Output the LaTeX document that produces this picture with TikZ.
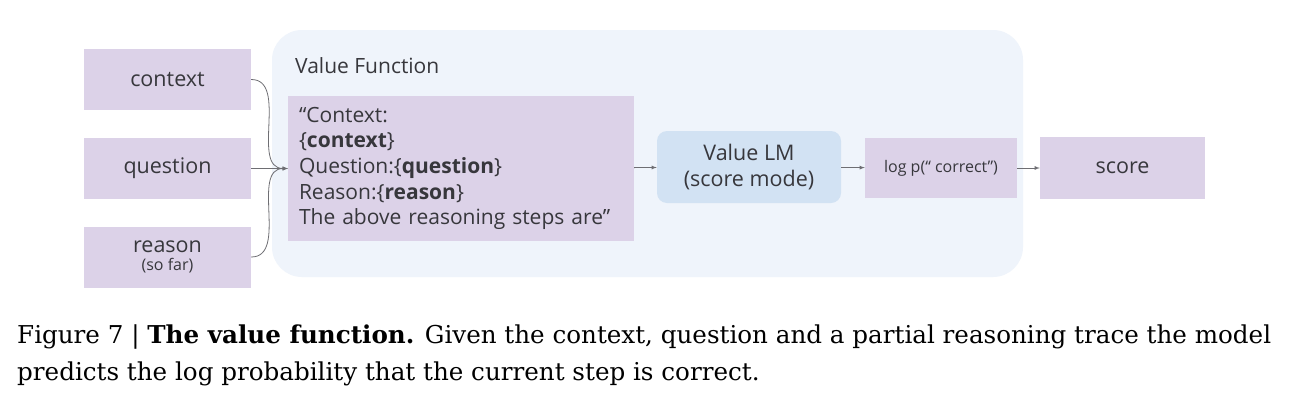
\documentclass[tikz,border=0pt]{standalone}
\usepackage{fontspec}
\newfontfamily\dfont{Open Sans}
\newfontfamily\capfont{DejaVu Serif}
\usetikzlibrary{arrows,positioning}
\tikzset{>=latex}
\definecolor{lav}{RGB}{220,210,232}
\definecolor{vfbg}{RGB}{239,244,251}
\definecolor{lmblue}{RGB}{210,226,243}
\definecolor{ink}{RGB}{55,55,60}
\definecolor{wiregray}{RGB}{110,110,115}
\tikzset{
  inbox/.style={fill=lav, minimum width=167pt, minimum height=61pt, inner sep=0pt,
    align=center, text=ink, font=\dfont\fontsize{21.5}{24}\selectfont},
  lmbox/.style={fill=lmblue, rounded corners=10pt, minimum width=184pt, minimum height=72pt,
    inner sep=0pt, align=center, text=ink, font=\dfont\fontsize{21.5}{26}\selectfont},
  flow/.style={->, draw=wiregray, line width=0.8pt},
}
\begin{document}
\begin{tikzpicture}[x=1pt,y=-1pt]
		\useasboundingbox[fill=white] (0,0) rectangle (1290,402);
		% value function frame
		\node[fill=vfbg, rounded corners=30pt, minimum width=751pt, minimum height=247pt, inner sep=0pt] (vf) at (647.5,153.5) {};
		\node[anchor=west, inner sep=0pt, text=ink, font=\dfont\fontsize{21}{24}\selectfont] (vflabel) at (295,66) {Value Function};
		% inputs
		\node[inbox] (ctx) at (167.5,79.5) {context};
		\node[inbox] (qst) at (167.5,168.5) {question};
		\node[inbox] (rsn) at (167.5,257) {reason\\[-6pt]{\fontsize{16}{18}\selectfont (so far)}};
		% prompt
		\node[fill=lav, minimum width=346pt, minimum height=145pt, text width=324pt, inner xsep=11pt, inner ysep=0pt,
			align=left, text=ink, font=\dfont\fontsize{21}{25.6}\selectfont] (prompt) at (461,168.5)
			{“Context:\\ \{\textbf{context}\}\\ Question:\{\textbf{question}\}\\ Reason:\{\textbf{reason}\}\\ The above reasoning steps are”};
		\node[lmbox] (lm) at (749,167) {Value LM\\(score mode)};
		\node[inbox, minimum width=152pt, minimum height=60pt, font=\dfont\fontsize{16}{18}\selectfont] (logp) at (941,168) {log p(“ correct”)};
		\node[inbox, minimum width=165pt, minimum height=62pt] (score) at (1122.5,168) {score};
		% connectors
		\draw[flow] (ctx.east) to[out=0,in=180] (prompt.west);
		\draw[flow] (qst.east) -- (prompt.west);
		\draw[flow] (rsn.east) to[out=0,in=180] (prompt.west);
		\draw[flow] (prompt) -- (lm);
		\draw[flow] (lm) -- (logp);
		\draw[flow] (logp) -- (score);
		% caption
		\node[anchor=base west, inner sep=0pt, font=\capfont\fontsize{24.6}{28}\selectfont] (cap1) at (17,343)
			{Figure 7 | \textbf{The value function.} Given the context, question and a partial reasoning trace the model};
		\node[anchor=base west, inner sep=0pt, font=\capfont\fontsize{24.6}{28}\selectfont] (cap2) at (17,380)
			{predicts the log probability that the current step is correct.};
	\end{tikzpicture}
\end{document}
